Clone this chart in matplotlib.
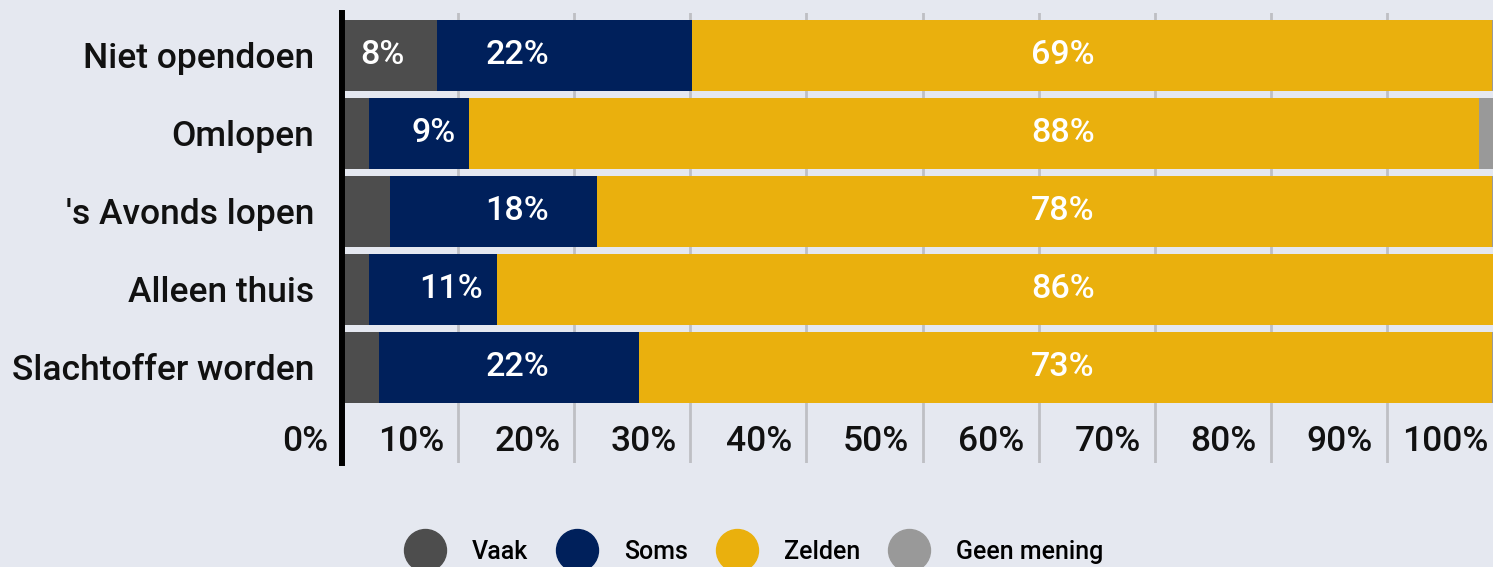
import matplotlib
matplotlib.use('Agg')
from matplotlib import pyplot as plt
from matplotlib.lines import Line2D
from matplotlib.transforms import blended_transform_factory

categories = ['Niet opendoen', 'Omlopen', "'s Avonds lopen", 'Alleen thuis', 'Slachtoffer worden']
series_names = ['Vaak', 'Soms', 'Zelden', 'Geen mening']

# percentages per category (rows don't always add up to exactly 100)
vaak = [8.2, 2.3, 4.1, 2.3, 3.2]
soms = [21.9, 8.7, 18.0, 11.0, 22.3]
zelden = [69.0, 87.6, 77.6, 86.4, 73.4]
geen_mening = [0.9, 2.1, 0.9, 0.3, 0.9]

x_ticks = [0, 10, 20, 30, 40, 50, 60, 70, 80, 90, 100]

colors = ['#4d4d4d', '#00205b', '#eab00d', '#999999']
label_anchor = [3.5, 15.1, 62.1, None]
bg = '#e5e8f0'
text_color = '#111111'

plt.rcParams['font.family'] = ['Roboto', 'DejaVu Sans']

W, H = 1493, 567
fig = plt.figure(figsize=(W / 100, H / 100), dpi=100, facecolor=bg)
ax = fig.add_axes([342.25 / W, 1 - 463 / H, (1502.8 - 342.25) / W, 450 / H])
ax.set_facecolor(bg)

series = [vaak, soms, zelden, geen_mening]
totals = [sum(row) for row in zip(*series)]
y = list(range(len(categories)))
left = [0.0] * len(categories)

for name, values, color, anchor in zip(series_names, series, colors, label_anchor):
    widths = [v / t * 100 for v, t in zip(values, totals)]
    ax.barh(y, widths, left=left, height=0.91, color=color, label=name, zorder=2)
    if anchor is not None:
        for yi, v, l, w in zip(y, values, left, widths):
            if v < 5:
                continue
            end = l + w
            if anchor > end - 4.5:
                x, ha = end - 1.15, 'right'
            else:
                x, ha = anchor, 'center'
            ax.text(x, yi, f'{v:.0f}%', ha=ha, va='center', color='white',
                    fontsize=24.5, fontweight='medium', zorder=4)
    left = [l + w for l, w in zip(left, widths)]

ax.set_xlim(0, 100)
ax.set_ylim(5.224, -0.542)
ax.set_xticks(x_ticks)
ax.xaxis.grid(True, color='#bebfc4', linewidth=2)
ax.set_axisbelow(True)
ax.tick_params(axis='x', length=0, labelbottom=False)

ax.set_yticks(y, categories)
ax.tick_params(axis='y', length=0, pad=20, labelsize=25.5, labelcolor=text_color)
for lbl in ax.get_yticklabels():
    lbl.set_fontweight('medium')

for side in ['top', 'right', 'bottom']:
    ax.spines[side].set_visible(False)
ax.spines['left'].set_linewidth(4.3)
ax.spines['left'].set_color('black')
ax.spines['left'].set_zorder(5)

# x tick labels sit inside the plot area, just left of each gridline
trans = blended_transform_factory(ax.transData, ax.transAxes)
for t in x_ticks:
    ax.text(t - 1.2, 0.048, f'{t}%', transform=trans, ha='right', va='center',
            fontsize=25.5, fontweight='medium', color=text_color)

handles = [Line2D([], [], linestyle='none', marker='o', markersize=30.2,
                  markerfacecolor=c, markeredgecolor=c) for c in colors]
fig.legend(handles, series_names, loc='center left',
           bbox_to_anchor=(404 / W, 1 - 552 / H), ncol=4, frameon=False,
           prop={'size': 18, 'weight': 'medium'},
           handlelength=1.68, handletextpad=1.04, columnspacing=1.12,
           borderpad=0, borderaxespad=0)

fig.savefig('out.png', dpi=100, facecolor=bg)
plt.close()
